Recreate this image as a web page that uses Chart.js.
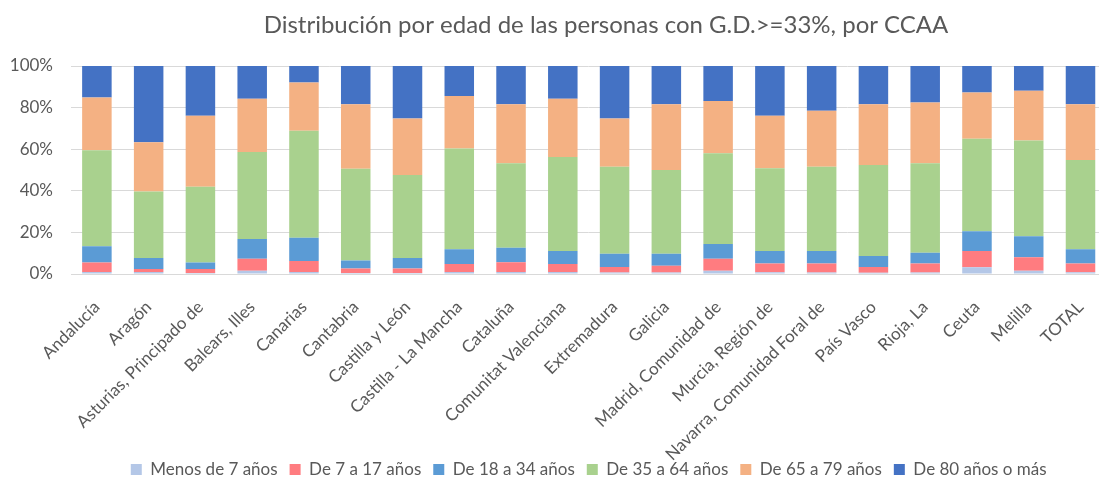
<!DOCTYPE html>
<html>
<head>
<meta charset="utf-8">
<script src="https://cdn.jsdelivr.net/npm/chart.js@4"></script>
<style>
  html, body { margin: 0; padding: 0; overflow: hidden; background: #fff; }
  #wrap { width: 1110px; height: 479px; }
</style>
</head>
<body>
<div id="wrap"><canvas id="myChart"></canvas></div>
<script>
var regiones = ["Andalucía", "Aragón", "Asturias, Principado de", "Balears, Illes", "Canarias",
  "Cantabria", "Castilla y León", "Castilla - La Mancha", "Cataluña", "Comunitat Valenciana",
  "Extremadura", "Galicia", "Madrid, Comunidad de", "Murcia, Región de",
  "Navarra, Comunidad Foral de", "País Vasco", "Rioja, La", "Ceuta", "Melilla", "TOTAL"];

// porcentajes por grupo de edad
var menos7   = [1.0, 1.0, 0.5, 1.6, 1.0, 0.5, 0.5, 1.0, 1.0, 1.0, 0.7, 0.7, 1.6, 0.8, 0.7, 0.6, 0.7, 3.2, 1.6, 0.8];
var de7a17   = [4.5, 1.4, 1.9, 5.7, 5.3, 2.1, 2.1, 3.8, 4.6, 3.8, 2.7, 3.3, 5.7, 4.2, 4.3, 2.8, 4.3, 7.9, 6.5, 4.2];
var de18a34  = [7.9, 5.3, 3.1, 9.5, 11.1, 3.9, 5.1, 7.1, 7.0, 6.3, 6.3, 5.7, 7.1, 6.1, 6.1, 5.3, 5.2, 9.5, 10.1, 6.9];
var de35a64  = [46.1, 32.0, 36.4, 41.9, 51.5, 44.1, 39.9, 48.4, 40.6, 45.2, 41.9, 40.3, 43.7, 39.7, 40.5, 43.7, 43.0, 44.4, 46.0, 42.9];
var de65a79  = [25.3, 23.7, 34.2, 25.5, 23.2, 31.0, 27.1, 25.3, 28.4, 27.9, 23.1, 31.6, 25.1, 25.3, 26.9, 29.2, 29.2, 22.3, 23.9, 26.8];
var de80     = [15.2, 36.6, 23.9, 15.8, 7.9, 18.4, 25.3, 14.4, 18.4, 15.8, 25.3, 18.4, 16.8, 23.9, 21.5, 18.4, 17.6, 12.7, 11.9, 18.4];

var yTicks = [0, 20, 40, 60, 80, 100];

var titulo = 'Distribución por edad de las personas con G.D.>=33%, por CCAA';
var gris = "#595959";

// el titulo va algo desplazado a la derecha, como en el original
var tituloPlugin = {
  id: 'tituloPlugin',
  afterLayout: function (chart) {
    // que las etiquetas largas del eje x no se corten
    chart.scales.x.bottom = chart.height;
  },
  afterDraw: function (chart) {
    var c = chart.ctx;
    c.save();
    c.font = '24px Lato';
    c.fillStyle = gris;
    c.textAlign = 'center';
    c.textBaseline = 'middle';
    c.fillText(titulo, 606, 25);
    c.restore();
  }
};

var ctx = document.getElementById("myChart");
var myChart = new Chart(ctx, {
  type: 'bar',
  data: {
    labels: regiones,
    datasets: [
      { label: "Menos de 7 años", data: menos7, backgroundColor: "#B4C7E7" },
      { label: "De 7 a 17 años", data: de7a17, backgroundColor: "#FF7C80" },
      { label: "De 18 a 34 años", data: de18a34, backgroundColor: "#5B9BD5" },
      { label: "De 35 a 64 años", data: de35a64, backgroundColor: "#A9D18E" },
      { label: "De 65 a 79 años", data: de65a79, backgroundColor: "#F4B183" },
      { label: "De 80 años o más", data: de80, backgroundColor: "#4472C4" }
    ]
  },
  plugins: [tituloPlugin],
  options: {
    responsive: true,
    maintainAspectRatio: false,
    animation: false,
    datasets: { bar: { barPercentage: 0.57, categoryPercentage: 1.0 } },
    layout: { padding: { left: 0, right: 3, top: 66, bottom: -9 } },
    plugins: {
      title: { display: false },
      legend: {
        position: 'bottom',
        fullSize: false,
        labels: {
          color: gris,
          boxWidth: 11, boxHeight: 11,
          font: { family: 'Lato', size: 17 },
          padding: 12
        }
      },
      tooltip: { enabled: false }
    },
    scales: {
      x: {
        stacked: true,
        grid: { display: false },
        border: { color: '#d9d9d9' },
        afterFit: function (scale) { scale.height = 175; },
        ticks: {
          color: gris, autoSkip: false, padding: 15,
          minRotation: 45, maxRotation: 45,
          font: { family: 'Lato', size: 17 }
        }
      },
      y: {
        stacked: true,
        min: 0, max: 100,
        afterBuildTicks: function (axis) { axis.ticks = yTicks.map(function (v) { return { value: v }; }); },
        afterFit: function (scale) { scale.width = 71; },
        grid: { color: '#d9d9d9', drawTicks: false },
        border: { display: false },
        ticks: {
          color: gris, padding: 18,
          font: { family: 'Lato', size: 17 },
          callback: function (v) { return v + '%'; }
        }
      }
    }
  }
});
</script>
</body>
</html>
